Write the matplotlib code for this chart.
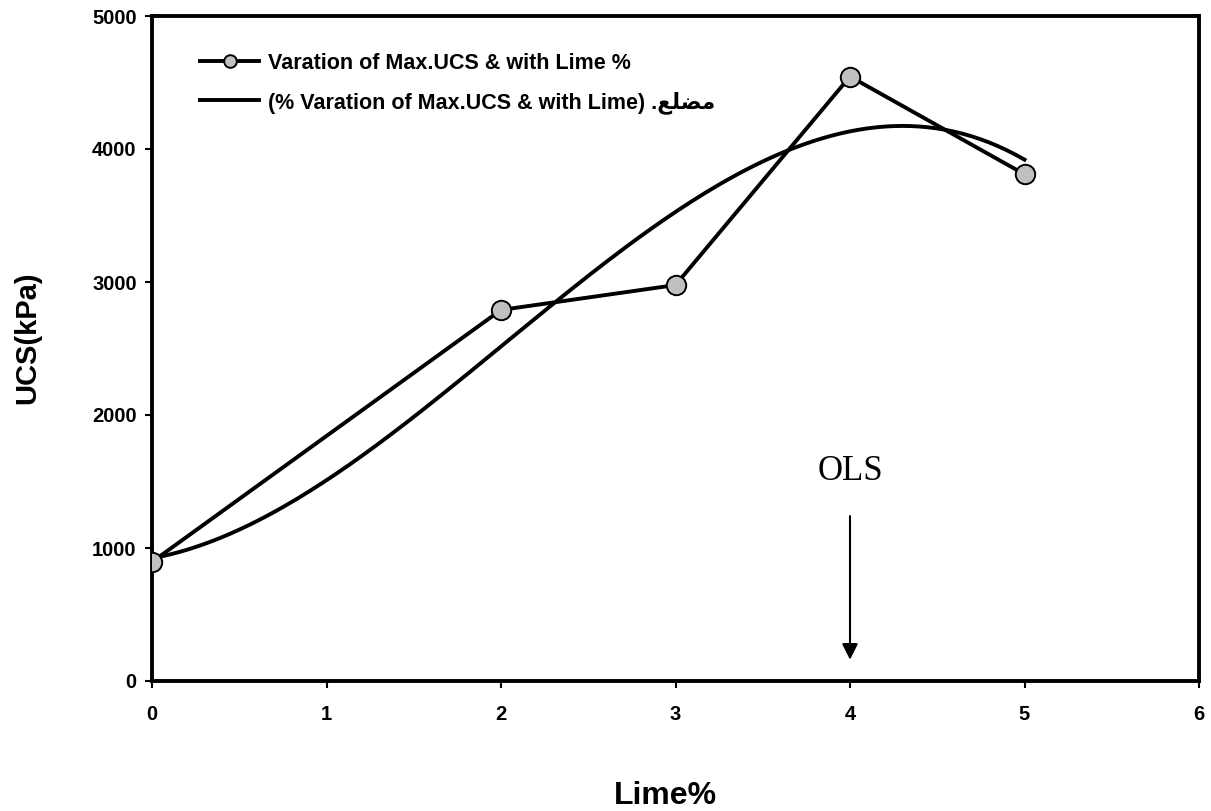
import matplotlib.pyplot as plt
import numpy as np

plt.rcParams['font.family'] = ['Liberation Sans', 'DejaVu Sans']

lime = [0, 2, 3, 4, 5]
ucs = [895, 2790, 2977, 4545, 3810]

x_ticks = [0, 1, 2, 3, 4, 5, 6]
y_ticks = [0, 1000, 2000, 3000, 4000, 5000]

label_data = "Varation of Max.UCS & with Lime %"
# Arabic word in presentation forms, visual order
label_trend = "(% Varation of Max.UCS & with Lime) .\ufeca\ufee0\ufec0\ufee3"

fig = plt.figure(figsize=(12.11, 8.11), dpi=100)
ax = fig.add_axes([152 / 1211, 1 - 681 / 811, 1047 / 1211, 665 / 811])

ax.plot(lime, ucs, color='black', lw=2.8, marker='o', markersize=14,
        markerfacecolor='#c0c0c0', markeredgecolor='black', markeredgewidth=1.4,
        label=label_data, zorder=3)

# polynomial trendline (order 3) fitted to the data
coef = np.polyfit(lime, ucs, 3)
xs = np.linspace(0, 5, 200)
ax.plot(xs, np.polyval(coef, xs), color='black', lw=2.8, label=label_trend, zorder=2)

ax.annotate("", xy=(4, 160), xytext=(4, 1240),
            arrowprops=dict(arrowstyle='-|>', color='black', lw=1.5,
                            mutation_scale=24, shrinkA=0, shrinkB=0))
ax.text(4, 1575, "OLS", family='Liberation Serif', fontsize=25, ha='center', va='center')

ax.set_xlim(0, 6)
ax.set_ylim(0, 5000)
ax.set_xticks(x_ticks)
ax.set_yticks(y_ticks)
ax.tick_params(direction='out', length=5, width=1.5, labelsize=14.5)
ax.tick_params(axis='x', pad=12)
ax.tick_params(axis='y', pad=6)
for lab in ax.get_xticklabels() + ax.get_yticklabels():
    lab.set_fontweight('bold')
for s in ax.spines.values():
    s.set_linewidth(2.8)

ax.set_xlabel("Lime%", fontsize=23, fontweight='bold', va='center')
ax.xaxis.set_label_coords(0.49, -0.173)
ax.set_ylabel("UCS(kPa)", fontsize=21, fontweight='bold', va='center')
ax.yaxis.set_label_coords(-0.119, 0.516)

leg = ax.legend(loc='upper left', bbox_to_anchor=(0.046, 0.945), frameon=False,
                borderaxespad=0, borderpad=0, handlelength=2.75, handletextpad=0.4,
                labelspacing=0.8, markerscale=0.65, prop={'weight': 'bold', 'size': 15.5})

plt.savefig("out.png", dpi=100)
